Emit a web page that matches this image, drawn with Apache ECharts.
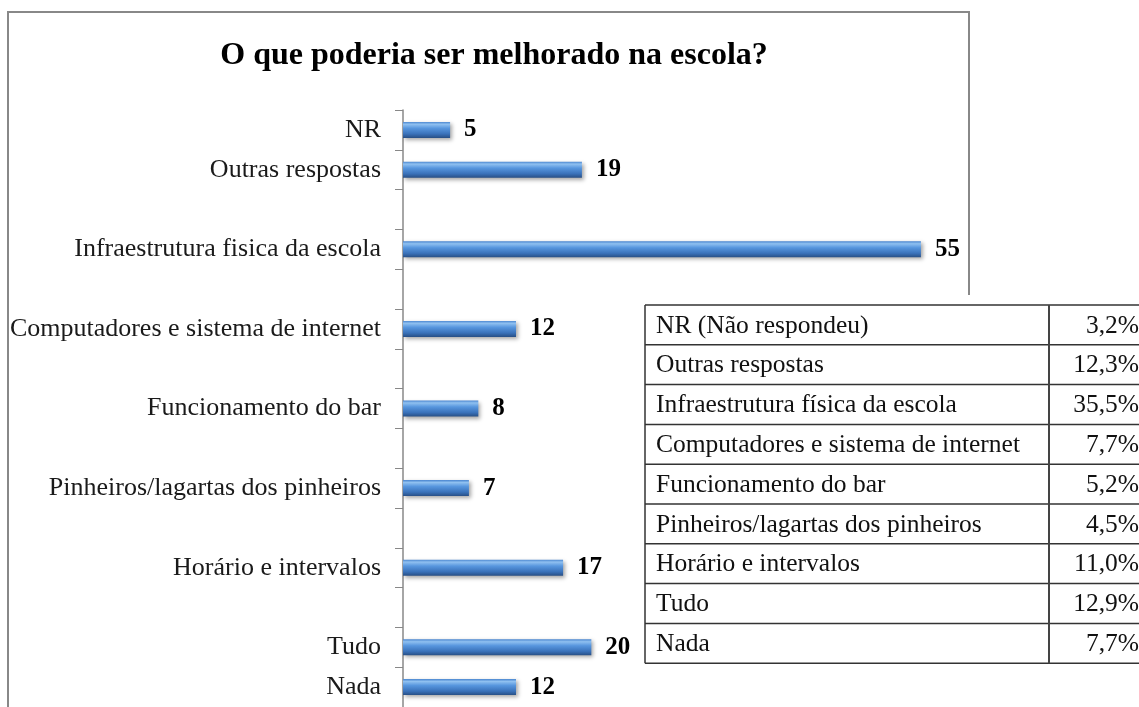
<!DOCTYPE html>
<html>
<head>
<meta charset="utf-8">
<script src="https://cdn.jsdelivr.net/npm/echarts@6/dist/echarts.min.js"></script>
<style>
html, body { margin: 0; padding: 0; background: #fff; }
#box { width: 1139px; height: 707px; }
</style>
</head>
<body>
<div id="box"></div>
<script>
// categorias do gráfico (linhas vazias = espaços entre as barras)
var categorias = ['NR', 'Outras respostas', '', 'Infraestrutura fisica da escola', '',
	'Computadores e sistema de internet', '', 'Funcionamento do bar', '',
	'Pinheiros/lagartas dos pinheiros', '', 'Horário e intervalos', '', 'Tudo', 'Nada'];
var valores = [5, 19, null, 55, null, 12, null, 8, null, 7, null, 17, null, 20, 12];

// tabela ao lado
var tabelaNomes = ['NR (Não respondeu)', 'Outras respostas', 'Infraestrutura física da escola',
	'Computadores e sistema de internet', 'Funcionamento do bar', 'Pinheiros/lagartas dos pinheiros',
	'Horário e intervalos', 'Tudo', 'Nada'];
var tabelaPerc = ['3,2%', '12,3%', '35,5%', '7,7%', '5,2%', '4,5%', '11,0%', '12,9%', '7,7%'];

var fonte = '"Liberation Serif", "Times New Roman", serif';

function montaTabela() {
	var x0 = 645, y0 = 305, rowH = 39.8, colX = 1049, x1 = 1141;
	var els = [];
	// fundo branco (cobre a borda do gráfico)
	els.push({
		type: 'rect', z: 10,
		shape: { x: 633, y: 295, width: 520, height: 420 },
		style: { fill: '#fff' }
	});
	var n = tabelaNomes.length;
	for (var i = 0; i <= n; i++) {
		els.push({
			type: 'line', z: 11,
			shape: { x1: x0, y1: y0 + i * rowH, x2: x1, y2: y0 + i * rowH },
			style: { stroke: '#333', lineWidth: 1.5 }
		});
	}
	els.push({ type: 'line', z: 11, shape: { x1: x0, y1: y0, x2: x0, y2: y0 + n * rowH }, style: { stroke: '#333', lineWidth: 1.5 } });
	els.push({ type: 'line', z: 11, shape: { x1: colX, y1: y0, x2: colX, y2: y0 + n * rowH }, style: { stroke: '#444', lineWidth: 2 } });
	for (var j = 0; j < n; j++) {
		var cy = y0 + j * rowH + rowH / 2 + 1;
		els.push({
			type: 'text', z: 12, x: 656, y: cy,
			style: { text: tabelaNomes[j], font: '25.5px ' + fonte, fill: '#111', textAlign: 'left', textVerticalAlign: 'middle' }
		});
		els.push({
			type: 'text', z: 12, x: 1139, y: cy,
			style: { text: tabelaPerc[j], font: '25.5px ' + fonte, fill: '#111', textAlign: 'right', textVerticalAlign: 'middle' }
		});
	}
	return els;
}

var myChart = echarts.init(document.getElementById('box'));
var option = {
	animation: false,
	title: {
		text: 'O que poderia ser melhorado na escola?',
		left: 489,
		top: 35,
		textAlign: 'center',
		textStyle: { fontFamily: fonte, fontSize: 32, fontWeight: 'bold', color: '#000' }
	},
	grid: { left: 403, top: 110, width: 565, height: 600 },
	xAxis: {
		type: 'value', min: 0, max: 60,
		show: false
	},
	yAxis: {
		type: 'category',
		inverse: true,
		data: categorias,
		axisLine: { lineStyle: { color: '#888', width: 1.5 } },
		axisTick: { show: true, interval: 0, length: 8, lineStyle: { color: '#888' } },
		axisLabel: { interval: 0, margin: 22, fontFamily: fonte, fontSize: 26, color: '#1a1a1a' }
	},
	series: [{
		type: 'bar',
		data: valores,
		barWidth: 16,
		itemStyle: {
			color: new echarts.graphic.LinearGradient(0, 0, 0, 1, [
				{ offset: 0, color: '#4a86d0' },
				{ offset: 0.15, color: '#8fc0f0' },
				{ offset: 0.4, color: '#5796de' },
				{ offset: 0.75, color: '#3a72ba' },
				{ offset: 1, color: '#284f85' }
			]),
			shadowColor: 'rgba(0,0,0,0.35)',
			shadowBlur: 4,
			shadowOffsetX: 2,
			shadowOffsetY: 2
		},
		label: {
			show: true, position: 'right', distance: 14,
			fontFamily: fonte, fontSize: 25, fontWeight: 'bold', color: '#000'
		}
	}],
	graphic: [{
		type: 'rect', z: 0,
		shape: { x: 8, y: 12, width: 961, height: 760 },
		style: { fill: 'none', stroke: '#888', lineWidth: 2 }
	}].concat(montaTabela())
};
myChart.setOption(option);
</script>
</body>
</html>
